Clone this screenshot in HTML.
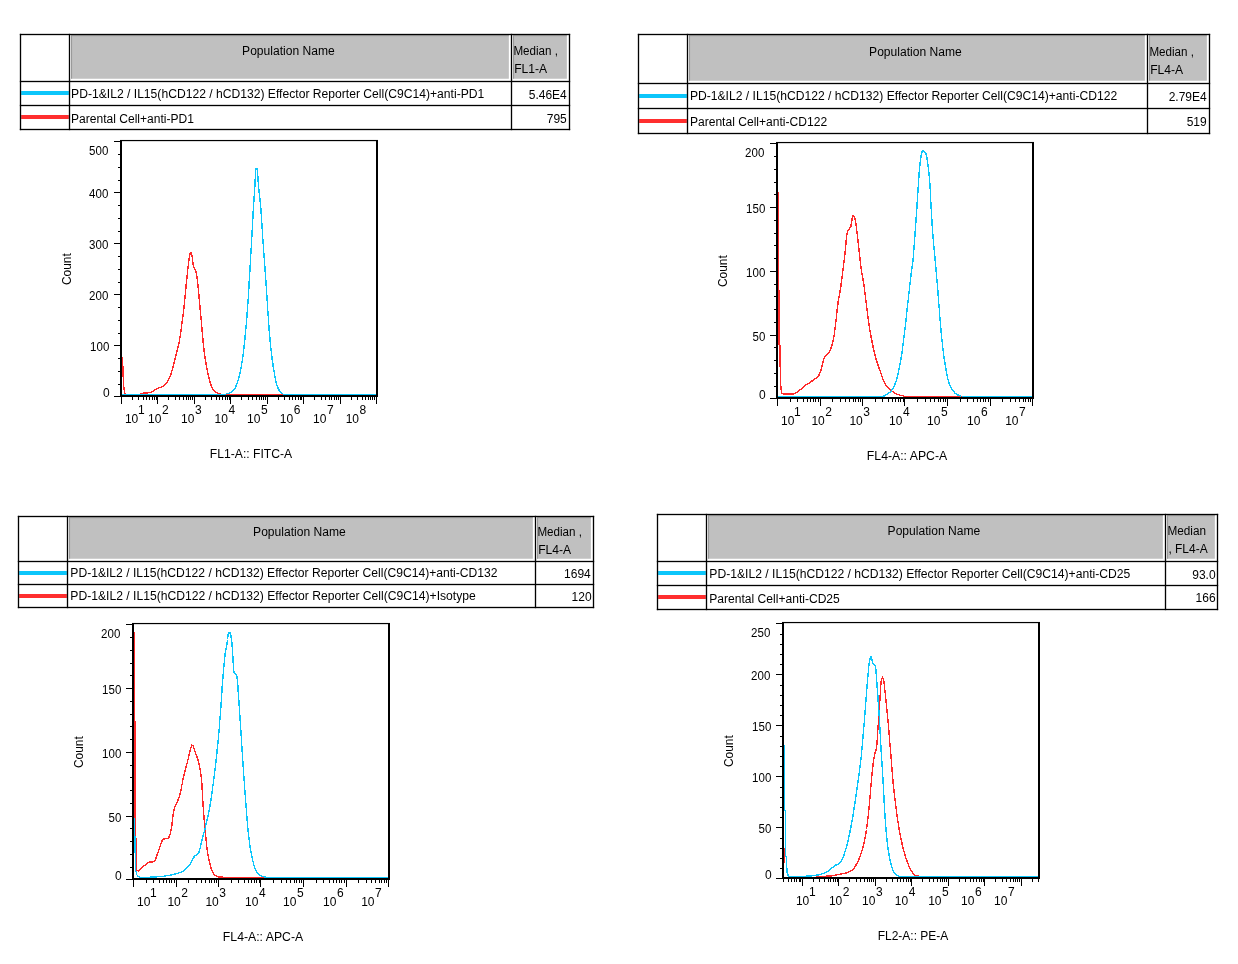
<!DOCTYPE html>
<html lang="en"><head><meta charset="utf-8"><title>Flow cytometry histograms</title>
<style>html,body{margin:0;padding:0;background:#fff}svg{display:block}text{font-family:"Liberation Sans", Arial, sans-serif;fill:#000}</style></head><body>
<svg width="1238" height="964" viewBox="0 0 1238 964">
<rect width="1238" height="964" fill="#fff"/>
<rect x="71.20" y="35.10" width="437.65" height="43.65" fill="#c0c0c0"/>
<rect x="71.20" y="35.10" width="0.85" height="43.65" fill="#8e8e8e"/>
<rect x="71.20" y="35.10" width="437.65" height="1.10" fill="#a2a2a2"/>
<rect x="513.20" y="35.10" width="53.65" height="43.65" fill="#c0c0c0"/>
<rect x="513.20" y="35.10" width="0.85" height="43.65" fill="#8e8e8e"/>
<rect x="513.20" y="35.10" width="53.65" height="1.10" fill="#a2a2a2"/>
<rect x="21.16" y="91.00" width="47.68" height="4.00" fill="#0cc6fb"/>
<rect x="21.16" y="115.00" width="47.68" height="4.00" fill="#ff2e2e"/>
<rect x="19.84" y="33.84" width="550.32" height="1.32" fill="#000"/>
<rect x="19.84" y="80.84" width="550.32" height="1.32" fill="#000"/>
<rect x="19.84" y="104.84" width="550.32" height="1.32" fill="#000"/>
<rect x="19.84" y="128.84" width="550.32" height="1.32" fill="#000"/>
<rect x="19.84" y="33.84" width="1.32" height="96.32" fill="#000"/>
<rect x="68.84" y="33.84" width="1.32" height="96.32" fill="#000"/>
<rect x="510.84" y="33.84" width="1.32" height="96.32" fill="#000"/>
<rect x="568.84" y="33.84" width="1.32" height="96.32" fill="#000"/>
<text x="288.40" y="54.70" font-size="12" text-anchor="middle" textLength="92.6" lengthAdjust="spacingAndGlyphs">Population Name</text>
<text x="513.40" y="54.70" font-size="12" text-anchor="start" textLength="44.6" lengthAdjust="spacingAndGlyphs">Median ,</text>
<text x="514.20" y="72.70" font-size="12" text-anchor="start" textLength="33.0" lengthAdjust="spacingAndGlyphs">FL1-A</text>
<text x="71.10" y="97.60" font-size="12" text-anchor="start" textLength="413.2" lengthAdjust="spacingAndGlyphs">PD-1&amp;IL2 / IL15(hCD122 / hCD132) Effector Reporter Cell(C9C14)+anti-PD1</text>
<text x="566.80" y="98.60" font-size="12" text-anchor="end">5.46E4</text>
<text x="71.10" y="122.90" font-size="12" text-anchor="start" textLength="122.8" lengthAdjust="spacingAndGlyphs">Parental Cell+anti-PD1</text>
<text x="566.80" y="122.70" font-size="12" text-anchor="end">795</text>
<rect x="689.20" y="35.10" width="455.65" height="45.65" fill="#c0c0c0"/>
<rect x="689.20" y="35.10" width="0.85" height="45.65" fill="#8e8e8e"/>
<rect x="689.20" y="35.10" width="455.65" height="1.10" fill="#a2a2a2"/>
<rect x="1149.20" y="35.10" width="57.65" height="45.65" fill="#c0c0c0"/>
<rect x="1149.20" y="35.10" width="0.85" height="45.65" fill="#8e8e8e"/>
<rect x="1149.20" y="35.10" width="57.65" height="1.10" fill="#a2a2a2"/>
<rect x="639.16" y="94.00" width="47.68" height="4.00" fill="#0cc6fb"/>
<rect x="639.16" y="119.00" width="47.68" height="4.00" fill="#ff2e2e"/>
<rect x="637.84" y="33.84" width="572.32" height="1.32" fill="#000"/>
<rect x="637.84" y="82.84" width="572.32" height="1.32" fill="#000"/>
<rect x="637.84" y="107.84" width="572.32" height="1.32" fill="#000"/>
<rect x="637.84" y="132.84" width="572.32" height="1.32" fill="#000"/>
<rect x="637.84" y="33.84" width="1.32" height="100.32" fill="#000"/>
<rect x="686.84" y="33.84" width="1.32" height="100.32" fill="#000"/>
<rect x="1146.84" y="33.84" width="1.32" height="100.32" fill="#000"/>
<rect x="1208.84" y="33.84" width="1.32" height="100.32" fill="#000"/>
<text x="915.40" y="55.70" font-size="12" text-anchor="middle" textLength="92.6" lengthAdjust="spacingAndGlyphs">Population Name</text>
<text x="1149.40" y="55.70" font-size="12" text-anchor="start" textLength="44.6" lengthAdjust="spacingAndGlyphs">Median ,</text>
<text x="1150.20" y="73.70" font-size="12" text-anchor="start" textLength="33.0" lengthAdjust="spacingAndGlyphs">FL4-A</text>
<text x="689.90" y="99.90" font-size="12" text-anchor="start" textLength="427.3" lengthAdjust="spacingAndGlyphs">PD-1&amp;IL2 / IL15(hCD122 / hCD132) Effector Reporter Cell(C9C14)+anti-CD122</text>
<text x="1206.70" y="100.90" font-size="12" text-anchor="end">2.79E4</text>
<text x="689.90" y="125.80" font-size="12" text-anchor="start" textLength="137.2" lengthAdjust="spacingAndGlyphs">Parental Cell+anti-CD122</text>
<text x="1206.70" y="125.80" font-size="12" text-anchor="end">519</text>
<rect x="69.20" y="517.10" width="463.65" height="41.65" fill="#c0c0c0"/>
<rect x="69.20" y="517.10" width="0.85" height="41.65" fill="#8e8e8e"/>
<rect x="69.20" y="517.10" width="463.65" height="1.10" fill="#a2a2a2"/>
<rect x="537.20" y="517.10" width="53.65" height="41.65" fill="#c0c0c0"/>
<rect x="537.20" y="517.10" width="0.85" height="41.65" fill="#8e8e8e"/>
<rect x="537.20" y="517.10" width="53.65" height="1.10" fill="#a2a2a2"/>
<rect x="19.16" y="571.00" width="47.68" height="4.00" fill="#0cc6fb"/>
<rect x="19.16" y="594.00" width="47.68" height="4.00" fill="#ff2e2e"/>
<rect x="17.84" y="515.84" width="576.32" height="1.32" fill="#000"/>
<rect x="17.84" y="560.84" width="576.32" height="1.32" fill="#000"/>
<rect x="17.84" y="583.84" width="576.32" height="1.32" fill="#000"/>
<rect x="17.84" y="606.84" width="576.32" height="1.32" fill="#000"/>
<rect x="17.84" y="515.84" width="1.32" height="92.32" fill="#000"/>
<rect x="66.84" y="515.84" width="1.32" height="92.32" fill="#000"/>
<rect x="534.84" y="515.84" width="1.32" height="92.32" fill="#000"/>
<rect x="592.84" y="515.84" width="1.32" height="92.32" fill="#000"/>
<text x="299.40" y="535.70" font-size="12" text-anchor="middle" textLength="92.6" lengthAdjust="spacingAndGlyphs">Population Name</text>
<text x="537.40" y="535.70" font-size="12" text-anchor="start" textLength="44.6" lengthAdjust="spacingAndGlyphs">Median ,</text>
<text x="538.20" y="553.70" font-size="12" text-anchor="start" textLength="33.0" lengthAdjust="spacingAndGlyphs">FL4-A</text>
<text x="70.30" y="576.60" font-size="12" text-anchor="start" textLength="427.3" lengthAdjust="spacingAndGlyphs">PD-1&amp;IL2 / IL15(hCD122 / hCD132) Effector Reporter Cell(C9C14)+anti-CD132</text>
<text x="590.80" y="577.70" font-size="12" text-anchor="end">1694</text>
<text x="70.30" y="599.60" font-size="12" text-anchor="start" textLength="405.5" lengthAdjust="spacingAndGlyphs">PD-1&amp;IL2 / IL15(hCD122 / hCD132) Effector Reporter Cell(C9C14)+Isotype</text>
<text x="591.60" y="600.60" font-size="12" text-anchor="end">120</text>
<rect x="708.20" y="515.10" width="454.65" height="43.65" fill="#c0c0c0"/>
<rect x="708.20" y="515.10" width="0.85" height="43.65" fill="#8e8e8e"/>
<rect x="708.20" y="515.10" width="454.65" height="1.10" fill="#a2a2a2"/>
<rect x="1167.20" y="515.10" width="47.65" height="43.65" fill="#c0c0c0"/>
<rect x="1167.20" y="515.10" width="0.85" height="43.65" fill="#8e8e8e"/>
<rect x="1167.20" y="515.10" width="47.65" height="1.10" fill="#a2a2a2"/>
<rect x="658.16" y="571.00" width="47.68" height="4.00" fill="#0cc6fb"/>
<rect x="658.16" y="595.00" width="47.68" height="4.00" fill="#ff2e2e"/>
<rect x="656.84" y="513.84" width="561.32" height="1.32" fill="#000"/>
<rect x="656.84" y="560.84" width="561.32" height="1.32" fill="#000"/>
<rect x="656.84" y="584.84" width="561.32" height="1.32" fill="#000"/>
<rect x="656.84" y="608.84" width="561.32" height="1.32" fill="#000"/>
<rect x="656.84" y="513.84" width="1.32" height="96.32" fill="#000"/>
<rect x="705.84" y="513.84" width="1.32" height="96.32" fill="#000"/>
<rect x="1164.84" y="513.84" width="1.32" height="96.32" fill="#000"/>
<rect x="1216.84" y="513.84" width="1.32" height="96.32" fill="#000"/>
<text x="933.90" y="534.70" font-size="12" text-anchor="middle" textLength="92.6" lengthAdjust="spacingAndGlyphs">Population Name</text>
<text x="1167.40" y="534.70" font-size="12" text-anchor="start" textLength="38.6" lengthAdjust="spacingAndGlyphs">Median</text>
<text x="1168.40" y="552.70" font-size="12" text-anchor="start" textLength="39.3" lengthAdjust="spacingAndGlyphs">, FL4-A</text>
<text x="709.30" y="578.20" font-size="12" text-anchor="start" textLength="421.0" lengthAdjust="spacingAndGlyphs">PD-1&amp;IL2 / IL15(hCD122 / hCD132) Effector Reporter Cell(C9C14)+anti-CD25</text>
<text x="1215.60" y="578.60" font-size="12" text-anchor="end">93.0</text>
<text x="709.30" y="602.60" font-size="12" text-anchor="start" textLength="130.5" lengthAdjust="spacingAndGlyphs">Parental Cell+anti-CD25</text>
<text x="1215.60" y="602.30" font-size="12" text-anchor="end">166</text>
<polyline points="122.5,357.0 123.0,372.0 123.6,385.0 124.6,393.4 126.0,394.4 140.4,394.4" fill="none" stroke="#ff2a2a" stroke-width="1.4" stroke-linejoin="round" shape-rendering="crispEdges"/>
<polyline points="140.4,393.4 142.0,393.3 144.3,393.1 146.7,392.9 148.7,392.7 151.0,392.2 152.9,391.4 155.3,389.8 157.8,388.2 160.4,387.4 162.8,386.6 166.1,383.6 167.5,381.6 168.9,379.1 170.3,376.1 171.0,374.0 171.7,371.7 172.4,369.2 173.0,366.8 173.6,364.5 174.2,362.4 174.7,360.4 175.1,358.4 175.6,356.5 176.1,354.5 176.7,352.1 177.4,349.7 178.0,347.2 178.6,344.6 179.1,342.4 179.5,340.1 179.9,337.8 180.3,335.4 180.7,332.9 181.0,330.8 181.3,328.6 181.6,326.4 181.8,324.2 182.1,321.9 182.4,319.7 182.7,317.5 183.0,315.4 183.3,313.3 183.5,311.1 183.8,308.8 184.1,306.4 184.3,304.5 184.5,302.5 184.7,300.4 184.9,298.3 185.1,296.2 185.3,294.0 185.5,291.9 185.7,289.8 185.9,287.7 186.1,285.6 186.3,283.4 186.5,281.3 186.8,279.2 187.0,277.1 187.2,275.1 187.4,273.2 187.7,270.7 187.9,268.3 188.2,266.0 188.5,263.8 188.7,261.7 189.0,259.9 189.5,256.5 190.0,253.8 190.5,252.4 191.4,253.4 192.2,256.6 192.5,258.3 192.7,260.4 192.9,262.7 193.2,264.8 193.5,266.6 194.7,268.9 196.0,271.5 196.4,273.3 196.7,275.5 197.1,277.8 197.4,280.4 197.7,283.2 197.9,285.0 198.1,287.0 198.3,289.0 198.5,291.1 198.7,293.2 198.9,295.4 199.1,297.6 199.3,299.8 199.5,301.8 199.7,303.7 199.9,305.7 200.1,307.8 200.2,309.8 200.4,311.9 200.6,313.9 200.8,316.0 201.0,318.0 201.2,320.0 201.4,322.1 201.5,324.1 201.7,326.1 201.9,328.2 202.0,330.2 202.2,332.2 202.4,334.3 202.6,336.3 202.8,338.4 203.0,340.4 203.2,342.6 203.5,344.7 203.7,346.8 203.9,348.8 204.1,350.8 204.4,352.7 204.6,354.5 205.0,357.0 205.3,359.4 205.7,361.6 206.0,363.7 206.4,365.7 206.8,367.8 207.3,370.3 207.8,372.8 208.3,375.1 208.8,377.4 209.3,379.4 210.1,382.3 210.9,384.7 211.8,386.9 213.4,389.8 215.1,391.9 218.4,393.7 222.0,394.3" fill="none" stroke="#ff2a2a" stroke-width="1.4" stroke-linejoin="round" shape-rendering="crispEdges"/>
<polyline points="221.0,394.4 376.0,394.4" fill="none" stroke="#ff2a2a" stroke-width="1.4" stroke-linejoin="round" shape-rendering="crispEdges"/>
<polyline points="122.0,394.4 226.4,394.4" fill="none" stroke="#0cc6fb" stroke-width="1.4" stroke-linejoin="round" shape-rendering="crispEdges"/>
<polyline points="226.4,394.0 228.7,393.3 231.5,392.0 233.5,390.4 235.3,387.6 236.1,385.8 236.9,383.7 237.7,381.4 238.5,378.8 239.2,376.2 239.7,374.3 240.1,372.3 240.6,370.2 241.0,368.1 241.4,365.8 241.8,363.5 242.2,361.0 242.5,359.2 242.7,357.3 243.0,355.3 243.3,353.3 243.5,351.3 243.8,349.2 244.0,347.1 244.2,344.9 244.5,342.8 244.7,340.6 244.9,338.6 245.1,336.6 245.3,334.6 245.5,332.6 245.7,330.5 245.9,328.4 246.1,326.3 246.3,324.2 246.4,322.0 246.6,319.9 246.8,317.7 247.0,315.7 247.1,313.6 247.3,311.5 247.4,309.4 247.6,307.3 247.7,305.2 247.9,303.0 248.0,300.9 248.2,298.7 248.3,296.6 248.5,294.4 248.6,292.3 248.7,290.2 248.9,288.1 249.0,286.0 249.1,283.8 249.2,281.7 249.4,279.6 249.5,277.5 249.6,275.4 249.7,273.3 249.9,271.1 250.0,269.0 250.1,266.9 250.2,264.8 250.3,262.7 250.5,260.6 250.6,258.5 250.7,256.4 250.8,254.3 251.0,252.2 251.1,250.1 251.2,247.9 251.3,245.8 251.5,243.6 251.6,241.4 251.7,239.3 251.8,237.2 251.9,235.1 252.1,232.9 252.2,230.7 252.3,228.5 252.4,226.4 252.5,224.2 252.6,222.0 252.7,219.8 252.9,217.7 253.0,215.6 253.1,213.5 253.2,211.3 253.4,209.0 253.5,206.8 253.6,204.6 253.8,202.4 253.9,200.2 254.1,198.0 254.2,195.9 254.3,193.9 254.5,191.8 254.6,189.9 254.7,188.0 254.9,185.5 255.0,183.0 255.1,180.5 255.3,178.1 255.4,175.8 255.5,173.7 255.6,171.8 255.8,170.2 255.9,169.0 257.2,169.0 257.4,170.3 257.5,171.9 257.7,173.9 257.8,176.1 258.0,178.4 258.1,180.9 258.3,183.3 258.5,185.7 258.7,188.0 258.9,190.0 259.1,192.0 259.3,193.9 259.5,195.9 259.8,198.0 260.0,200.0 260.2,202.1 260.4,204.1 260.6,206.3 260.8,208.4 261.0,210.4 261.1,212.4 261.2,214.4 261.4,216.4 261.5,218.5 261.6,220.6 261.8,222.7 261.9,224.8 262.0,227.0 262.2,229.1 262.3,231.3 262.4,233.3 262.6,235.4 262.7,237.5 262.9,239.6 263.0,241.7 263.2,243.8 263.3,246.0 263.5,248.1 263.6,250.3 263.8,252.4 263.9,254.6 264.1,256.7 264.3,258.8 264.4,260.9 264.6,263.0 264.7,265.2 264.9,267.3 265.0,269.4 265.2,271.5 265.3,273.6 265.5,275.7 265.6,277.9 265.8,280.0 265.9,282.1 266.0,284.2 266.2,286.3 266.3,288.5 266.5,290.6 266.6,292.7 266.8,294.9 266.9,297.0 267.0,299.1 267.2,301.2 267.3,303.4 267.5,305.5 267.6,307.6 267.7,309.7 267.9,311.9 268.0,314.1 268.2,316.3 268.3,318.4 268.5,320.6 268.6,322.8 268.8,324.9 268.9,327.0 269.1,329.1 269.2,331.1 269.4,333.0 269.6,335.2 269.8,337.4 270.0,339.5 270.2,341.6 270.3,343.6 270.5,345.6 270.7,347.6 271.0,349.5 271.2,351.4 271.4,353.3 271.7,355.7 272.0,358.0 272.3,360.4 272.7,362.7 273.0,364.9 273.3,367.1 273.7,369.1 274.0,371.1 274.4,373.6 274.8,375.9 275.2,378.1 275.6,380.1 276.0,382.0 276.5,383.8 277.5,386.9 278.7,389.5 279.8,391.5 283.1,394.0" fill="none" stroke="#0cc6fb" stroke-width="1.4" stroke-linejoin="round" shape-rendering="crispEdges"/>
<polyline points="283.1,394.4 376.0,394.4" fill="none" stroke="#0cc6fb" stroke-width="1.4" stroke-linejoin="round" shape-rendering="crispEdges"/>
<rect x="120.00" y="140.00" width="2.00" height="257.00" fill="#000"/>
<rect x="376.00" y="140.00" width="2.00" height="257.00" fill="#000"/>
<rect x="120.00" y="139.95" width="258.00" height="1.20" fill="#000"/>
<rect x="120.00" y="395.00" width="258.00" height="2.00" fill="#000"/>
<rect x="114.00" y="141.00" width="6.50" height="1.00" fill="#000"/>
<rect x="118.00" y="154.00" width="2.50" height="1.00" fill="#000"/>
<rect x="118.00" y="167.00" width="2.50" height="1.00" fill="#000"/>
<rect x="118.00" y="180.00" width="2.50" height="1.00" fill="#000"/>
<rect x="114.00" y="192.00" width="6.50" height="1.00" fill="#000"/>
<rect x="118.00" y="205.00" width="2.50" height="1.00" fill="#000"/>
<rect x="118.00" y="218.00" width="2.50" height="1.00" fill="#000"/>
<rect x="118.00" y="231.00" width="2.50" height="1.00" fill="#000"/>
<rect x="114.00" y="243.00" width="6.50" height="1.00" fill="#000"/>
<rect x="118.00" y="256.00" width="2.50" height="1.00" fill="#000"/>
<rect x="118.00" y="269.00" width="2.50" height="1.00" fill="#000"/>
<rect x="118.00" y="282.00" width="2.50" height="1.00" fill="#000"/>
<rect x="114.00" y="294.00" width="6.50" height="1.00" fill="#000"/>
<rect x="118.00" y="307.00" width="2.50" height="1.00" fill="#000"/>
<rect x="118.00" y="320.00" width="2.50" height="1.00" fill="#000"/>
<rect x="118.00" y="333.00" width="2.50" height="1.00" fill="#000"/>
<rect x="114.00" y="345.00" width="6.50" height="1.00" fill="#000"/>
<rect x="118.00" y="358.00" width="2.50" height="1.00" fill="#000"/>
<rect x="118.00" y="371.00" width="2.50" height="1.00" fill="#000"/>
<rect x="118.00" y="384.00" width="2.50" height="1.00" fill="#000"/>
<rect x="114.00" y="396.00" width="6.50" height="1.00" fill="#000"/>
<text x="108.30" y="154.70" font-size="12" text-anchor="end" textLength="19.2" lengthAdjust="spacingAndGlyphs">500</text>
<text x="108.30" y="198.00" font-size="12" text-anchor="end" textLength="19.2" lengthAdjust="spacingAndGlyphs">400</text>
<text x="108.30" y="249.00" font-size="12" text-anchor="end" textLength="19.2" lengthAdjust="spacingAndGlyphs">300</text>
<text x="108.30" y="300.00" font-size="12" text-anchor="end" textLength="19.2" lengthAdjust="spacingAndGlyphs">200</text>
<text x="109.30" y="351.00" font-size="12" text-anchor="end" textLength="19.2" lengthAdjust="spacingAndGlyphs">100</text>
<text x="109.60" y="397.00" font-size="12" text-anchor="end">0</text>
<rect x="121.00" y="396.50" width="1.00" height="7.50" fill="#000"/>
<rect x="157.00" y="396.50" width="1.00" height="7.50" fill="#000"/>
<rect x="194.00" y="396.50" width="1.00" height="7.50" fill="#000"/>
<rect x="230.00" y="396.50" width="1.00" height="7.50" fill="#000"/>
<rect x="267.00" y="396.50" width="1.00" height="7.50" fill="#000"/>
<rect x="303.00" y="396.50" width="1.00" height="7.50" fill="#000"/>
<rect x="340.00" y="396.50" width="1.00" height="7.50" fill="#000"/>
<rect x="376.00" y="396.50" width="1.00" height="7.50" fill="#000"/>
<rect x="132.00" y="396.50" width="1.00" height="3.50" fill="#000"/>
<rect x="138.00" y="396.50" width="1.00" height="3.50" fill="#000"/>
<rect x="143.00" y="396.50" width="1.00" height="3.50" fill="#000"/>
<rect x="146.00" y="396.50" width="1.00" height="3.50" fill="#000"/>
<rect x="149.00" y="396.50" width="1.00" height="3.50" fill="#000"/>
<rect x="152.00" y="396.50" width="1.00" height="3.50" fill="#000"/>
<rect x="154.00" y="396.50" width="1.00" height="3.50" fill="#000"/>
<rect x="156.00" y="396.50" width="1.00" height="3.50" fill="#000"/>
<rect x="168.00" y="396.50" width="1.00" height="3.50" fill="#000"/>
<rect x="175.00" y="396.50" width="1.00" height="3.50" fill="#000"/>
<rect x="179.00" y="396.50" width="1.00" height="3.50" fill="#000"/>
<rect x="183.00" y="396.50" width="1.00" height="3.50" fill="#000"/>
<rect x="186.00" y="396.50" width="1.00" height="3.50" fill="#000"/>
<rect x="188.00" y="396.50" width="1.00" height="3.50" fill="#000"/>
<rect x="190.00" y="396.50" width="1.00" height="3.50" fill="#000"/>
<rect x="192.00" y="396.50" width="1.00" height="3.50" fill="#000"/>
<rect x="205.00" y="396.50" width="1.00" height="3.50" fill="#000"/>
<rect x="211.00" y="396.50" width="1.00" height="3.50" fill="#000"/>
<rect x="216.00" y="396.50" width="1.00" height="3.50" fill="#000"/>
<rect x="219.00" y="396.50" width="1.00" height="3.50" fill="#000"/>
<rect x="222.00" y="396.50" width="1.00" height="3.50" fill="#000"/>
<rect x="225.00" y="396.50" width="1.00" height="3.50" fill="#000"/>
<rect x="227.00" y="396.50" width="1.00" height="3.50" fill="#000"/>
<rect x="229.00" y="396.50" width="1.00" height="3.50" fill="#000"/>
<rect x="241.00" y="396.50" width="1.00" height="3.50" fill="#000"/>
<rect x="248.00" y="396.50" width="1.00" height="3.50" fill="#000"/>
<rect x="252.00" y="396.50" width="1.00" height="3.50" fill="#000"/>
<rect x="256.00" y="396.50" width="1.00" height="3.50" fill="#000"/>
<rect x="259.00" y="396.50" width="1.00" height="3.50" fill="#000"/>
<rect x="261.00" y="396.50" width="1.00" height="3.50" fill="#000"/>
<rect x="263.00" y="396.50" width="1.00" height="3.50" fill="#000"/>
<rect x="265.00" y="396.50" width="1.00" height="3.50" fill="#000"/>
<rect x="278.00" y="396.50" width="1.00" height="3.50" fill="#000"/>
<rect x="284.00" y="396.50" width="1.00" height="3.50" fill="#000"/>
<rect x="289.00" y="396.50" width="1.00" height="3.50" fill="#000"/>
<rect x="292.00" y="396.50" width="1.00" height="3.50" fill="#000"/>
<rect x="295.00" y="396.50" width="1.00" height="3.50" fill="#000"/>
<rect x="298.00" y="396.50" width="1.00" height="3.50" fill="#000"/>
<rect x="300.00" y="396.50" width="1.00" height="3.50" fill="#000"/>
<rect x="301.00" y="396.50" width="1.00" height="3.50" fill="#000"/>
<rect x="314.00" y="396.50" width="1.00" height="3.50" fill="#000"/>
<rect x="321.00" y="396.50" width="1.00" height="3.50" fill="#000"/>
<rect x="325.00" y="396.50" width="1.00" height="3.50" fill="#000"/>
<rect x="329.00" y="396.50" width="1.00" height="3.50" fill="#000"/>
<rect x="331.00" y="396.50" width="1.00" height="3.50" fill="#000"/>
<rect x="334.00" y="396.50" width="1.00" height="3.50" fill="#000"/>
<rect x="336.00" y="396.50" width="1.00" height="3.50" fill="#000"/>
<rect x="338.00" y="396.50" width="1.00" height="3.50" fill="#000"/>
<rect x="351.00" y="396.50" width="1.00" height="3.50" fill="#000"/>
<rect x="357.00" y="396.50" width="1.00" height="3.50" fill="#000"/>
<rect x="362.00" y="396.50" width="1.00" height="3.50" fill="#000"/>
<rect x="365.00" y="396.50" width="1.00" height="3.50" fill="#000"/>
<rect x="368.00" y="396.50" width="1.00" height="3.50" fill="#000"/>
<rect x="370.00" y="396.50" width="1.00" height="3.50" fill="#000"/>
<rect x="372.00" y="396.50" width="1.00" height="3.50" fill="#000"/>
<rect x="374.00" y="396.50" width="1.00" height="3.50" fill="#000"/>
<text x="124.90" y="423.10" font-size="12" text-anchor="start">10</text>
<text x="137.90" y="413.80" font-size="12" text-anchor="start">1</text>
<text x="148.00" y="423.10" font-size="12" text-anchor="start">10</text>
<text x="161.90" y="413.80" font-size="12" text-anchor="start">2</text>
<text x="181.10" y="423.10" font-size="12" text-anchor="start">10</text>
<text x="195.00" y="413.80" font-size="12" text-anchor="start">3</text>
<text x="214.50" y="423.10" font-size="12" text-anchor="start">10</text>
<text x="228.40" y="413.80" font-size="12" text-anchor="start">4</text>
<text x="247.10" y="423.10" font-size="12" text-anchor="start">10</text>
<text x="261.00" y="413.80" font-size="12" text-anchor="start">5</text>
<text x="279.80" y="423.10" font-size="12" text-anchor="start">10</text>
<text x="293.70" y="413.80" font-size="12" text-anchor="start">6</text>
<text x="313.00" y="423.10" font-size="12" text-anchor="start">10</text>
<text x="326.90" y="413.80" font-size="12" text-anchor="start">7</text>
<text x="345.70" y="423.10" font-size="12" text-anchor="start">10</text>
<text x="359.60" y="413.80" font-size="12" text-anchor="start">8</text>
<text x="251.00" y="457.90" font-size="12" text-anchor="middle" textLength="82.3" lengthAdjust="spacingAndGlyphs">FL1-A:: FITC-A</text>
<text transform="translate(71.20,269.10) rotate(-90)" font-size="12" text-anchor="middle" textLength="31.8" lengthAdjust="spacingAndGlyphs">Count</text>
<polyline points="778.5,191.5 778.5,345.0" fill="none" stroke="#ff2a2a" stroke-width="1.0" stroke-linejoin="round" shape-rendering="crispEdges"/>
<polyline points="779.5,290.0 779.5,367.0" fill="none" stroke="#ff2a2a" stroke-width="1.0" stroke-linejoin="round" shape-rendering="crispEdges"/>
<polyline points="780.4,345.0 780.4,380.0 781.0,388.0 781.6,393.7 784.4,393.9" fill="none" stroke="#ff2a2a" stroke-width="1.4" stroke-linejoin="round" shape-rendering="crispEdges"/>
<polyline points="784.4,393.9 786.2,394.0 788.7,394.1 791.4,394.1 793.7,393.9 796.5,392.7 798.9,390.8 800.9,389.2 803.0,387.3 805.1,385.6 807.2,384.2 809.2,382.9 811.3,381.5 813.5,380.0 815.7,378.5 817.6,376.9 819.3,374.6 820.7,371.1 821.3,369.2 821.9,366.9 822.5,364.3 823.1,361.8 823.7,359.5 824.4,357.6 826.7,354.9 829.0,352.5 829.9,350.7 830.8,348.6 831.6,346.3 832.4,343.7 833.1,341.0 833.5,339.2 833.8,337.3 834.2,335.4 834.5,333.3 834.7,331.2 835.0,329.0 835.3,326.8 835.6,324.5 835.8,322.6 836.1,320.5 836.3,318.4 836.5,316.2 836.7,314.0 837.0,311.8 837.2,309.6 837.4,307.5 837.7,305.5 837.9,303.7 838.2,301.3 838.6,299.2 839.0,297.3 839.3,295.4 839.7,293.5 840.0,291.4 840.4,289.2 840.7,287.3 841.0,285.3 841.2,283.3 841.5,281.2 841.8,279.0 842.1,276.9 842.4,274.7 842.6,272.6 842.9,270.5 843.2,268.4 843.4,266.4 843.7,264.3 843.9,262.2 844.2,260.2 844.4,258.1 844.6,256.0 844.9,254.0 845.1,251.9 845.3,249.7 845.6,247.5 845.8,245.1 846.0,242.7 846.2,240.4 846.4,238.3 846.6,236.3 846.8,234.6 847.0,233.2 848.3,230.1 850.7,227.0 851.1,225.1 851.6,222.4 852.0,219.7 852.4,217.2 852.8,215.6 854.5,216.6 854.8,217.9 855.2,219.6 855.5,221.6 855.9,223.8 856.2,226.3 856.6,229.0 856.8,230.7 857.1,232.7 857.3,234.7 857.6,236.8 857.8,239.0 858.0,241.2 858.3,243.5 858.5,245.6 858.8,247.8 859.0,249.8 859.2,252.0 859.5,254.2 859.7,256.3 859.9,258.4 860.2,260.5 860.4,262.6 860.6,264.6 860.9,266.5 861.1,268.4 861.4,270.6 861.8,272.7 862.1,274.6 862.5,276.5 862.9,278.5 863.2,280.6 863.6,283.0 863.9,284.8 864.1,286.7 864.4,288.8 864.7,290.8 864.9,293.0 865.2,295.1 865.5,297.3 865.8,299.5 866.0,301.6 866.3,303.7 866.6,305.8 866.8,307.9 867.1,310.1 867.4,312.2 867.6,314.4 867.9,316.5 868.2,318.6 868.4,320.6 868.7,322.6 869.0,324.5 869.3,326.8 869.7,328.9 870.0,331.0 870.4,333.0 870.7,335.0 871.1,337.0 871.5,339.0 871.9,341.0 872.3,343.1 872.8,345.2 873.2,347.4 873.7,349.6 874.1,351.7 874.6,353.7 875.1,355.7 875.6,357.6 876.3,359.9 877.0,362.1 877.7,364.2 878.4,366.2 879.1,368.1 879.8,370.1 880.6,372.5 881.4,374.9 882.2,377.3 883.0,379.5 883.9,381.5 885.5,384.3 887.2,386.7 889.1,388.8 891.3,390.8 893.8,392.5 896.4,393.9 898.6,394.7 901.0,395.4 903.2,395.9 904.7,396.3" fill="none" stroke="#ff2a2a" stroke-width="1.4" stroke-linejoin="round" shape-rendering="crispEdges"/>
<polyline points="904.7,396.4 1032.0,396.4" fill="none" stroke="#ff2a2a" stroke-width="1.4" stroke-linejoin="round" shape-rendering="crispEdges"/>
<polyline points="778.0,396.4 883.4,396.4" fill="none" stroke="#0cc6fb" stroke-width="1.4" stroke-linejoin="round" shape-rendering="crispEdges"/>
<polyline points="883.4,396.3 885.2,395.4 887.8,394.0 890.2,392.0 891.7,390.2 893.1,388.0 894.4,385.5 895.6,382.6 896.2,380.9 896.7,379.0 897.3,377.0 897.8,374.9 898.3,372.8 898.7,370.6 899.2,368.5 899.6,366.4 900.0,364.4 900.4,362.5 900.7,360.6 901.0,358.6 901.3,356.7 901.7,354.6 902.0,352.5 902.3,350.2 902.6,348.3 902.8,346.3 903.1,344.2 903.4,342.1 903.6,340.0 903.9,337.8 904.2,335.5 904.5,333.3 904.7,331.0 905.0,328.7 905.2,326.8 905.5,324.8 905.7,322.8 905.9,320.8 906.1,318.8 906.4,316.7 906.6,314.7 906.8,312.6 907.0,310.5 907.2,308.5 907.5,306.4 907.7,304.4 907.9,302.4 908.2,300.3 908.4,298.3 908.6,296.2 908.8,294.2 909.1,292.1 909.3,290.1 909.5,288.1 909.7,286.1 910.0,284.1 910.2,282.1 910.4,280.2 910.7,278.0 910.9,275.8 911.2,273.7 911.5,271.6 911.8,269.6 912.1,267.5 912.3,265.4 912.6,263.2 912.9,261.0 913.1,258.6 913.3,256.7 913.5,254.7 913.6,252.7 913.8,250.7 914.0,248.6 914.1,246.5 914.3,244.4 914.4,242.2 914.6,240.1 914.7,237.9 914.9,235.8 915.0,233.7 915.2,231.6 915.4,229.5 915.5,227.5 915.7,225.4 915.8,223.4 915.9,221.4 916.1,219.3 916.2,217.3 916.4,215.2 916.5,213.2 916.7,211.1 916.8,209.0 917.0,206.9 917.1,204.7 917.2,202.6 917.4,200.5 917.5,198.3 917.6,196.1 917.8,193.9 917.9,191.7 918.0,189.4 918.2,187.2 918.3,185.0 918.4,182.9 918.6,180.8 918.7,178.8 918.9,176.8 919.0,175.0 919.2,172.5 919.4,170.1 919.6,167.8 919.9,165.5 920.1,163.3 920.3,161.3 920.5,159.4 920.8,157.7 921.0,156.1 921.2,154.8 922.2,151.0 923.3,150.2 925.8,153.5 926.2,155.1 926.7,156.9 927.1,159.0 927.5,161.5 927.9,164.3 928.1,166.0 928.3,167.7 928.6,169.6 928.8,171.5 929.0,173.6 929.2,175.7 929.4,178.0 929.6,180.5 929.8,183.1 929.9,184.9 930.0,186.8 930.2,188.8 930.3,190.9 930.4,193.0 930.5,195.2 930.6,197.4 930.7,199.7 930.8,202.0 930.9,204.2 931.0,206.4 931.2,208.6 931.3,210.7 931.4,212.8 931.5,215.0 931.7,217.1 931.8,219.3 932.0,221.4 932.1,223.5 932.2,225.6 932.4,227.6 932.5,229.7 932.7,231.7 932.8,233.7 933.0,235.7 933.1,237.7 933.3,239.7 933.5,241.8 933.7,243.9 933.8,246.0 934.0,248.0 934.2,250.0 934.4,252.0 934.6,254.0 934.8,256.0 934.9,258.0 935.1,260.0 935.3,262.0 935.5,264.0 935.7,266.0 935.9,268.0 936.0,270.1 936.2,272.1 936.4,274.1 936.6,276.1 936.7,278.1 936.9,280.1 937.1,282.1 937.3,284.2 937.4,286.2 937.6,288.2 937.8,290.2 937.9,292.2 938.1,294.2 938.2,296.2 938.4,298.2 938.5,300.2 938.7,302.2 938.8,304.2 939.0,306.2 939.2,308.3 939.3,310.4 939.5,312.5 939.7,314.5 939.8,316.6 940.0,318.7 940.2,320.8 940.4,322.9 940.6,325.1 940.7,327.3 940.9,329.4 941.1,331.5 941.3,333.6 941.5,335.6 941.7,337.6 941.9,339.5 942.2,341.9 942.4,344.2 942.7,346.4 942.9,348.6 943.2,350.8 943.4,352.9 943.7,354.9 944.0,357.0 944.3,359.0 944.6,361.0 945.0,363.3 945.3,365.5 945.7,367.8 946.1,370.1 946.5,372.2 946.9,374.3 947.3,376.3 947.7,378.2 948.1,379.9 948.9,382.6 949.7,384.9 950.6,386.9 951.4,388.5 952.2,390.0 955.5,393.6 958.5,395.3 961.5,396.4" fill="none" stroke="#0cc6fb" stroke-width="1.4" stroke-linejoin="round" shape-rendering="crispEdges"/>
<polyline points="961.5,396.4 1032.0,396.4" fill="none" stroke="#0cc6fb" stroke-width="1.4" stroke-linejoin="round" shape-rendering="crispEdges"/>
<rect x="776.00" y="142.00" width="2.00" height="257.00" fill="#000"/>
<rect x="1032.00" y="142.00" width="2.00" height="257.00" fill="#000"/>
<rect x="776.00" y="141.95" width="258.00" height="1.20" fill="#000"/>
<rect x="776.00" y="397.00" width="258.00" height="2.00" fill="#000"/>
<rect x="770.00" y="143.00" width="6.50" height="1.00" fill="#000"/>
<rect x="774.00" y="156.00" width="2.50" height="1.00" fill="#000"/>
<rect x="774.00" y="169.00" width="2.50" height="1.00" fill="#000"/>
<rect x="774.00" y="182.00" width="2.50" height="1.00" fill="#000"/>
<rect x="774.00" y="194.00" width="2.50" height="1.00" fill="#000"/>
<rect x="770.00" y="207.00" width="6.50" height="1.00" fill="#000"/>
<rect x="774.00" y="220.00" width="2.50" height="1.00" fill="#000"/>
<rect x="774.00" y="233.00" width="2.50" height="1.00" fill="#000"/>
<rect x="774.00" y="245.00" width="2.50" height="1.00" fill="#000"/>
<rect x="774.00" y="258.00" width="2.50" height="1.00" fill="#000"/>
<rect x="770.00" y="271.00" width="6.50" height="1.00" fill="#000"/>
<rect x="774.00" y="284.00" width="2.50" height="1.00" fill="#000"/>
<rect x="774.00" y="296.00" width="2.50" height="1.00" fill="#000"/>
<rect x="774.00" y="309.00" width="2.50" height="1.00" fill="#000"/>
<rect x="774.00" y="322.00" width="2.50" height="1.00" fill="#000"/>
<rect x="770.00" y="335.00" width="6.50" height="1.00" fill="#000"/>
<rect x="774.00" y="347.00" width="2.50" height="1.00" fill="#000"/>
<rect x="774.00" y="360.00" width="2.50" height="1.00" fill="#000"/>
<rect x="774.00" y="373.00" width="2.50" height="1.00" fill="#000"/>
<rect x="774.00" y="386.00" width="2.50" height="1.00" fill="#000"/>
<rect x="770.00" y="398.00" width="6.50" height="1.00" fill="#000"/>
<text x="764.30" y="156.70" font-size="12" text-anchor="end" textLength="19.2" lengthAdjust="spacingAndGlyphs">200</text>
<text x="765.30" y="213.00" font-size="12" text-anchor="end" textLength="19.2" lengthAdjust="spacingAndGlyphs">150</text>
<text x="765.30" y="277.00" font-size="12" text-anchor="end" textLength="19.2" lengthAdjust="spacingAndGlyphs">100</text>
<text x="765.30" y="341.00" font-size="12" text-anchor="end" textLength="12.8" lengthAdjust="spacingAndGlyphs">50</text>
<text x="765.60" y="399.00" font-size="12" text-anchor="end">0</text>
<rect x="777.00" y="398.50" width="1.00" height="7.50" fill="#000"/>
<rect x="820.00" y="398.50" width="1.00" height="7.50" fill="#000"/>
<rect x="862.00" y="398.50" width="1.00" height="7.50" fill="#000"/>
<rect x="904.00" y="398.50" width="1.00" height="7.50" fill="#000"/>
<rect x="947.00" y="398.50" width="1.00" height="7.50" fill="#000"/>
<rect x="990.00" y="398.50" width="1.00" height="7.50" fill="#000"/>
<rect x="1032.00" y="398.50" width="1.00" height="7.50" fill="#000"/>
<rect x="790.00" y="398.50" width="1.00" height="3.50" fill="#000"/>
<rect x="797.00" y="398.50" width="1.00" height="3.50" fill="#000"/>
<rect x="803.00" y="398.50" width="1.00" height="3.50" fill="#000"/>
<rect x="807.00" y="398.50" width="1.00" height="3.50" fill="#000"/>
<rect x="810.00" y="398.50" width="1.00" height="3.50" fill="#000"/>
<rect x="813.00" y="398.50" width="1.00" height="3.50" fill="#000"/>
<rect x="815.00" y="398.50" width="1.00" height="3.50" fill="#000"/>
<rect x="818.00" y="398.50" width="1.00" height="3.50" fill="#000"/>
<rect x="832.00" y="398.50" width="1.00" height="3.50" fill="#000"/>
<rect x="840.00" y="398.50" width="1.00" height="3.50" fill="#000"/>
<rect x="845.00" y="398.50" width="1.00" height="3.50" fill="#000"/>
<rect x="849.00" y="398.50" width="1.00" height="3.50" fill="#000"/>
<rect x="853.00" y="398.50" width="1.00" height="3.50" fill="#000"/>
<rect x="855.00" y="398.50" width="1.00" height="3.50" fill="#000"/>
<rect x="858.00" y="398.50" width="1.00" height="3.50" fill="#000"/>
<rect x="860.00" y="398.50" width="1.00" height="3.50" fill="#000"/>
<rect x="875.00" y="398.50" width="1.00" height="3.50" fill="#000"/>
<rect x="882.00" y="398.50" width="1.00" height="3.50" fill="#000"/>
<rect x="888.00" y="398.50" width="1.00" height="3.50" fill="#000"/>
<rect x="892.00" y="398.50" width="1.00" height="3.50" fill="#000"/>
<rect x="895.00" y="398.50" width="1.00" height="3.50" fill="#000"/>
<rect x="898.00" y="398.50" width="1.00" height="3.50" fill="#000"/>
<rect x="900.00" y="398.50" width="1.00" height="3.50" fill="#000"/>
<rect x="903.00" y="398.50" width="1.00" height="3.50" fill="#000"/>
<rect x="917.00" y="398.50" width="1.00" height="3.50" fill="#000"/>
<rect x="925.00" y="398.50" width="1.00" height="3.50" fill="#000"/>
<rect x="930.00" y="398.50" width="1.00" height="3.50" fill="#000"/>
<rect x="934.00" y="398.50" width="1.00" height="3.50" fill="#000"/>
<rect x="938.00" y="398.50" width="1.00" height="3.50" fill="#000"/>
<rect x="940.00" y="398.50" width="1.00" height="3.50" fill="#000"/>
<rect x="943.00" y="398.50" width="1.00" height="3.50" fill="#000"/>
<rect x="945.00" y="398.50" width="1.00" height="3.50" fill="#000"/>
<rect x="960.00" y="398.50" width="1.00" height="3.50" fill="#000"/>
<rect x="967.00" y="398.50" width="1.00" height="3.50" fill="#000"/>
<rect x="973.00" y="398.50" width="1.00" height="3.50" fill="#000"/>
<rect x="977.00" y="398.50" width="1.00" height="3.50" fill="#000"/>
<rect x="980.00" y="398.50" width="1.00" height="3.50" fill="#000"/>
<rect x="983.00" y="398.50" width="1.00" height="3.50" fill="#000"/>
<rect x="985.00" y="398.50" width="1.00" height="3.50" fill="#000"/>
<rect x="988.00" y="398.50" width="1.00" height="3.50" fill="#000"/>
<rect x="1002.00" y="398.50" width="1.00" height="3.50" fill="#000"/>
<rect x="1010.00" y="398.50" width="1.00" height="3.50" fill="#000"/>
<rect x="1015.00" y="398.50" width="1.00" height="3.50" fill="#000"/>
<rect x="1019.00" y="398.50" width="1.00" height="3.50" fill="#000"/>
<rect x="1023.00" y="398.50" width="1.00" height="3.50" fill="#000"/>
<rect x="1025.00" y="398.50" width="1.00" height="3.50" fill="#000"/>
<rect x="1028.00" y="398.50" width="1.00" height="3.50" fill="#000"/>
<rect x="1030.00" y="398.50" width="1.00" height="3.50" fill="#000"/>
<text x="781.10" y="425.10" font-size="12" text-anchor="start">10</text>
<text x="794.10" y="415.80" font-size="12" text-anchor="start">1</text>
<text x="811.40" y="425.10" font-size="12" text-anchor="start">10</text>
<text x="825.30" y="415.80" font-size="12" text-anchor="start">2</text>
<text x="849.40" y="425.10" font-size="12" text-anchor="start">10</text>
<text x="863.30" y="415.80" font-size="12" text-anchor="start">3</text>
<text x="889.10" y="425.10" font-size="12" text-anchor="start">10</text>
<text x="903.00" y="415.80" font-size="12" text-anchor="start">4</text>
<text x="927.10" y="425.10" font-size="12" text-anchor="start">10</text>
<text x="941.00" y="415.80" font-size="12" text-anchor="start">5</text>
<text x="967.10" y="425.10" font-size="12" text-anchor="start">10</text>
<text x="981.00" y="415.80" font-size="12" text-anchor="start">6</text>
<text x="1005.20" y="425.10" font-size="12" text-anchor="start">10</text>
<text x="1019.10" y="415.80" font-size="12" text-anchor="start">7</text>
<text x="907.00" y="459.90" font-size="12" text-anchor="middle" textLength="80.3" lengthAdjust="spacingAndGlyphs">FL4-A:: APC-A</text>
<text transform="translate(727.20,271.10) rotate(-90)" font-size="12" text-anchor="middle" textLength="31.8" lengthAdjust="spacingAndGlyphs">Count</text>
<polyline points="134.5,632.2 134.5,721.0" fill="none" stroke="#ff2a2a" stroke-width="1.0" stroke-linejoin="round" shape-rendering="crispEdges"/>
<polyline points="135.0,721.0 135.0,840.0" fill="none" stroke="#ff2a2a" stroke-width="2.0" stroke-linejoin="round" shape-rendering="crispEdges"/>
<polyline points="136.4,838.0 136.4,869.5 137.4,871.5" fill="none" stroke="#ff2a2a" stroke-width="1.2" stroke-linejoin="round" shape-rendering="crispEdges"/>
<polyline points="137.7,871.6 139.3,870.1 141.6,868.0 143.8,866.1 146.6,863.7 149.3,862.0 151.9,862.0 154.2,861.5 155.3,859.7 156.3,857.1 157.5,853.8 158.2,852.0 158.9,849.7 159.7,847.3 160.6,844.8 161.4,842.6 162.2,840.6 163.0,839.2 165.6,838.6 168.0,838.6 169.0,837.1 169.8,835.0 170.6,832.3 171.3,829.0 171.6,827.3 171.9,825.3 172.1,823.1 172.4,820.8 172.6,818.5 172.9,816.2 173.2,813.9 173.6,811.7 174.0,809.8 174.8,807.2 175.7,805.0 176.7,802.9 177.7,800.8 178.6,798.5 179.5,796.0 180.0,794.1 180.5,792.0 181.0,789.9 181.4,787.7 181.8,785.4 182.3,783.2 182.7,781.0 183.1,778.8 183.6,776.8 184.1,774.6 184.6,772.5 185.2,770.4 185.7,768.3 186.2,766.3 186.8,764.3 187.3,762.3 187.8,760.3 188.4,757.9 189.0,755.3 189.6,752.6 190.2,750.1 190.8,747.9 191.4,746.2 191.9,745.1 193.2,746.1 194.6,750.6 195.2,752.2 195.9,754.1 196.7,756.1 197.5,758.3 198.2,760.6 198.8,763.0 199.2,764.8 199.6,766.6 200.0,768.4 200.3,770.3 200.6,772.3 200.9,774.5 201.2,776.9 201.5,779.5 201.7,781.3 201.8,783.2 202.0,785.2 202.1,787.3 202.2,789.5 202.3,791.8 202.5,794.0 202.6,796.3 202.7,798.6 202.8,800.8 202.9,803.0 203.1,805.0 203.2,807.0 203.4,809.2 203.5,811.4 203.7,813.5 203.9,815.5 204.1,817.5 204.2,819.5 204.4,821.4 204.6,823.3 204.8,825.2 204.9,827.1 205.1,829.0 205.3,831.3 205.5,833.6 205.7,835.8 205.9,838.0 206.1,840.2 206.3,842.3 206.5,844.3 206.7,846.4 207.0,848.3 207.4,850.7 207.7,853.1 208.1,855.4 208.6,857.6 209.0,859.7 209.4,861.6 209.8,863.4 210.4,866.0 211.1,868.1 211.7,870.0 212.5,871.6 214.1,874.4 216.6,876.3 218.9,876.9 221.7,877.1 224.4,877.3 226.3,877.4" fill="none" stroke="#ff2a2a" stroke-width="1.4" stroke-linejoin="round" shape-rendering="crispEdges"/>
<polyline points="226.3,877.4 388.0,877.4" fill="none" stroke="#ff2a2a" stroke-width="1.4" stroke-linejoin="round" shape-rendering="crispEdges"/>
<polyline points="134.5,818.0 134.5,853.0" fill="none" stroke="#0cc6fb" stroke-width="1.0" stroke-linejoin="round" shape-rendering="crispEdges"/>
<polyline points="135.5,836.0 135.5,869.5 136.5,874.0 137.7,876.6 141.0,877.4" fill="none" stroke="#0cc6fb" stroke-width="1.2" stroke-linejoin="round" shape-rendering="crispEdges"/>
<polyline points="141.0,877.4 142.2,877.4 143.8,877.4 145.6,877.4 147.7,877.3 150.0,877.2 152.3,877.1 154.7,877.0 157.0,876.8 159.2,876.7 161.2,876.5 163.0,876.3 165.8,875.9 168.4,875.5 170.8,875.1 172.9,874.6 174.9,874.1 176.8,873.6 179.3,872.8 181.4,871.9 183.3,870.9 185.0,869.7 187.1,867.8 188.9,865.7 190.5,863.4 192.0,860.9 193.3,858.2 194.6,856.0 196.8,854.5 198.8,852.4 199.4,850.9 199.9,849.0 200.4,846.8 200.9,844.6 201.5,842.2 202.0,840.0 202.6,837.9 203.1,835.7 203.7,833.6 204.3,831.3 205.0,828.9 205.6,826.3 206.0,824.4 206.5,822.4 207.0,820.4 207.5,818.3 208.0,816.1 208.5,813.8 208.9,811.6 209.4,809.3 209.8,807.0 210.1,805.1 210.4,803.2 210.8,801.2 211.1,799.2 211.3,797.2 211.6,795.2 211.9,793.1 212.2,791.1 212.5,789.0 212.7,787.0 213.0,785.0 213.3,783.0 213.5,781.1 213.8,779.1 214.0,777.2 214.3,775.3 214.5,773.4 214.8,771.4 215.0,769.4 215.3,767.3 215.5,765.2 215.8,763.0 216.0,761.1 216.2,759.1 216.5,757.0 216.7,754.9 216.9,752.8 217.1,750.7 217.3,748.5 217.6,746.3 217.8,744.1 218.0,742.0 218.2,739.8 218.4,737.6 218.6,735.5 218.8,733.4 219.0,731.3 219.2,729.2 219.3,727.0 219.5,724.9 219.7,722.8 219.8,720.7 220.0,718.6 220.2,716.5 220.3,714.3 220.5,712.2 220.6,710.1 220.8,708.0 221.0,705.9 221.1,703.7 221.3,701.6 221.4,699.4 221.5,697.3 221.7,695.1 221.8,693.0 222.0,690.9 222.1,688.8 222.2,686.7 222.4,684.6 222.5,682.5 222.7,680.5 222.9,678.3 223.1,676.1 223.2,673.8 223.4,671.6 223.6,669.3 223.8,667.1 224.0,665.0 224.2,662.9 224.4,660.9 224.5,659.1 224.7,657.4 224.9,655.8 225.3,652.7 225.7,650.5 226.1,648.6 226.4,646.8 226.8,644.8 227.1,642.3 227.5,639.5 227.8,636.8 228.2,634.5 228.5,632.9 230.4,632.9 230.7,634.1 230.9,635.7 231.2,637.6 231.5,639.8 231.8,642.2 232.0,644.8 232.3,647.5 232.4,649.3 232.6,651.3 232.7,653.5 232.8,655.8 233.0,658.2 233.1,660.6 233.2,663.0 233.4,665.3 233.5,667.4 233.7,669.3 233.8,671.0 234.0,672.3 236.7,675.0 236.9,676.2 237.1,677.7 237.3,679.3 237.4,681.1 237.6,683.1 237.8,685.2 237.9,687.4 238.1,689.7 238.2,692.1 238.4,694.5 238.6,697.0 238.7,698.8 238.9,700.6 239.0,702.4 239.1,704.3 239.3,706.3 239.4,708.3 239.5,710.4 239.7,712.5 239.8,714.6 239.9,716.7 240.1,718.9 240.2,721.1 240.4,723.3 240.5,725.5 240.7,727.8 240.8,730.0 240.9,731.9 241.0,733.8 241.2,735.8 241.3,737.7 241.4,739.7 241.6,741.8 241.7,743.8 241.8,745.8 241.9,747.9 242.1,749.9 242.2,752.0 242.3,754.1 242.5,756.2 242.6,758.2 242.7,760.3 242.9,762.4 243.0,764.4 243.2,766.5 243.3,768.5 243.4,770.5 243.6,772.6 243.7,774.7 243.9,776.7 244.0,778.8 244.2,780.9 244.3,783.0 244.5,785.1 244.6,787.2 244.8,789.3 244.9,791.4 245.1,793.4 245.2,795.4 245.4,797.5 245.5,799.4 245.7,801.4 245.8,803.3 246.0,805.2 246.1,807.0 246.3,809.3 246.5,811.5 246.6,813.7 246.8,815.9 247.0,818.0 247.1,820.1 247.3,822.2 247.5,824.2 247.7,826.2 247.8,828.1 248.0,830.0 248.2,831.9 248.4,833.7 248.6,835.5 248.8,837.3 249.1,839.6 249.4,841.9 249.7,844.2 250.0,846.3 250.3,848.4 250.7,850.4 251.0,852.4 251.4,854.2 251.7,856.0 252.1,857.7 252.4,859.3 253.1,862.0 253.7,864.4 254.4,866.6 255.1,868.5 255.8,870.1 256.5,871.6 258.5,874.3 260.5,875.6 262.7,876.5 265.0,877.0 267.8,877.4 270.0,877.4" fill="none" stroke="#0cc6fb" stroke-width="1.4" stroke-linejoin="round" shape-rendering="crispEdges"/>
<polyline points="270.0,877.4 388.0,877.4" fill="none" stroke="#0cc6fb" stroke-width="1.4" stroke-linejoin="round" shape-rendering="crispEdges"/>
<rect x="132.00" y="623.00" width="2.00" height="257.00" fill="#000"/>
<rect x="388.00" y="623.00" width="2.00" height="257.00" fill="#000"/>
<rect x="132.00" y="622.95" width="258.00" height="1.20" fill="#000"/>
<rect x="132.00" y="878.00" width="258.00" height="2.00" fill="#000"/>
<rect x="126.00" y="624.00" width="6.50" height="1.00" fill="#000"/>
<rect x="130.00" y="637.00" width="2.50" height="1.00" fill="#000"/>
<rect x="130.00" y="650.00" width="2.50" height="1.00" fill="#000"/>
<rect x="130.00" y="663.00" width="2.50" height="1.00" fill="#000"/>
<rect x="130.00" y="675.00" width="2.50" height="1.00" fill="#000"/>
<rect x="126.00" y="688.00" width="6.50" height="1.00" fill="#000"/>
<rect x="130.00" y="701.00" width="2.50" height="1.00" fill="#000"/>
<rect x="130.00" y="714.00" width="2.50" height="1.00" fill="#000"/>
<rect x="130.00" y="726.00" width="2.50" height="1.00" fill="#000"/>
<rect x="130.00" y="739.00" width="2.50" height="1.00" fill="#000"/>
<rect x="126.00" y="752.00" width="6.50" height="1.00" fill="#000"/>
<rect x="130.00" y="765.00" width="2.50" height="1.00" fill="#000"/>
<rect x="130.00" y="777.00" width="2.50" height="1.00" fill="#000"/>
<rect x="130.00" y="790.00" width="2.50" height="1.00" fill="#000"/>
<rect x="130.00" y="803.00" width="2.50" height="1.00" fill="#000"/>
<rect x="126.00" y="816.00" width="6.50" height="1.00" fill="#000"/>
<rect x="130.00" y="828.00" width="2.50" height="1.00" fill="#000"/>
<rect x="130.00" y="841.00" width="2.50" height="1.00" fill="#000"/>
<rect x="130.00" y="854.00" width="2.50" height="1.00" fill="#000"/>
<rect x="130.00" y="867.00" width="2.50" height="1.00" fill="#000"/>
<rect x="126.00" y="879.00" width="6.50" height="1.00" fill="#000"/>
<text x="120.30" y="637.70" font-size="12" text-anchor="end" textLength="19.2" lengthAdjust="spacingAndGlyphs">200</text>
<text x="121.30" y="694.00" font-size="12" text-anchor="end" textLength="19.2" lengthAdjust="spacingAndGlyphs">150</text>
<text x="121.30" y="758.00" font-size="12" text-anchor="end" textLength="19.2" lengthAdjust="spacingAndGlyphs">100</text>
<text x="121.30" y="822.00" font-size="12" text-anchor="end" textLength="12.8" lengthAdjust="spacingAndGlyphs">50</text>
<text x="121.60" y="880.00" font-size="12" text-anchor="end">0</text>
<rect x="133.00" y="879.50" width="1.00" height="7.50" fill="#000"/>
<rect x="176.00" y="879.50" width="1.00" height="7.50" fill="#000"/>
<rect x="218.00" y="879.50" width="1.00" height="7.50" fill="#000"/>
<rect x="260.00" y="879.50" width="1.00" height="7.50" fill="#000"/>
<rect x="303.00" y="879.50" width="1.00" height="7.50" fill="#000"/>
<rect x="346.00" y="879.50" width="1.00" height="7.50" fill="#000"/>
<rect x="388.00" y="879.50" width="1.00" height="7.50" fill="#000"/>
<rect x="146.00" y="879.50" width="1.00" height="3.50" fill="#000"/>
<rect x="153.00" y="879.50" width="1.00" height="3.50" fill="#000"/>
<rect x="159.00" y="879.50" width="1.00" height="3.50" fill="#000"/>
<rect x="163.00" y="879.50" width="1.00" height="3.50" fill="#000"/>
<rect x="166.00" y="879.50" width="1.00" height="3.50" fill="#000"/>
<rect x="169.00" y="879.50" width="1.00" height="3.50" fill="#000"/>
<rect x="171.00" y="879.50" width="1.00" height="3.50" fill="#000"/>
<rect x="174.00" y="879.50" width="1.00" height="3.50" fill="#000"/>
<rect x="188.00" y="879.50" width="1.00" height="3.50" fill="#000"/>
<rect x="196.00" y="879.50" width="1.00" height="3.50" fill="#000"/>
<rect x="201.00" y="879.50" width="1.00" height="3.50" fill="#000"/>
<rect x="205.00" y="879.50" width="1.00" height="3.50" fill="#000"/>
<rect x="209.00" y="879.50" width="1.00" height="3.50" fill="#000"/>
<rect x="211.00" y="879.50" width="1.00" height="3.50" fill="#000"/>
<rect x="214.00" y="879.50" width="1.00" height="3.50" fill="#000"/>
<rect x="216.00" y="879.50" width="1.00" height="3.50" fill="#000"/>
<rect x="231.00" y="879.50" width="1.00" height="3.50" fill="#000"/>
<rect x="238.00" y="879.50" width="1.00" height="3.50" fill="#000"/>
<rect x="244.00" y="879.50" width="1.00" height="3.50" fill="#000"/>
<rect x="248.00" y="879.50" width="1.00" height="3.50" fill="#000"/>
<rect x="251.00" y="879.50" width="1.00" height="3.50" fill="#000"/>
<rect x="254.00" y="879.50" width="1.00" height="3.50" fill="#000"/>
<rect x="256.00" y="879.50" width="1.00" height="3.50" fill="#000"/>
<rect x="259.00" y="879.50" width="1.00" height="3.50" fill="#000"/>
<rect x="273.00" y="879.50" width="1.00" height="3.50" fill="#000"/>
<rect x="281.00" y="879.50" width="1.00" height="3.50" fill="#000"/>
<rect x="286.00" y="879.50" width="1.00" height="3.50" fill="#000"/>
<rect x="290.00" y="879.50" width="1.00" height="3.50" fill="#000"/>
<rect x="294.00" y="879.50" width="1.00" height="3.50" fill="#000"/>
<rect x="296.00" y="879.50" width="1.00" height="3.50" fill="#000"/>
<rect x="299.00" y="879.50" width="1.00" height="3.50" fill="#000"/>
<rect x="301.00" y="879.50" width="1.00" height="3.50" fill="#000"/>
<rect x="316.00" y="879.50" width="1.00" height="3.50" fill="#000"/>
<rect x="323.00" y="879.50" width="1.00" height="3.50" fill="#000"/>
<rect x="329.00" y="879.50" width="1.00" height="3.50" fill="#000"/>
<rect x="333.00" y="879.50" width="1.00" height="3.50" fill="#000"/>
<rect x="336.00" y="879.50" width="1.00" height="3.50" fill="#000"/>
<rect x="339.00" y="879.50" width="1.00" height="3.50" fill="#000"/>
<rect x="341.00" y="879.50" width="1.00" height="3.50" fill="#000"/>
<rect x="344.00" y="879.50" width="1.00" height="3.50" fill="#000"/>
<rect x="358.00" y="879.50" width="1.00" height="3.50" fill="#000"/>
<rect x="366.00" y="879.50" width="1.00" height="3.50" fill="#000"/>
<rect x="371.00" y="879.50" width="1.00" height="3.50" fill="#000"/>
<rect x="375.00" y="879.50" width="1.00" height="3.50" fill="#000"/>
<rect x="379.00" y="879.50" width="1.00" height="3.50" fill="#000"/>
<rect x="381.00" y="879.50" width="1.00" height="3.50" fill="#000"/>
<rect x="384.00" y="879.50" width="1.00" height="3.50" fill="#000"/>
<rect x="386.00" y="879.50" width="1.00" height="3.50" fill="#000"/>
<text x="137.10" y="906.10" font-size="12" text-anchor="start">10</text>
<text x="150.10" y="896.80" font-size="12" text-anchor="start">1</text>
<text x="167.40" y="906.10" font-size="12" text-anchor="start">10</text>
<text x="181.30" y="896.80" font-size="12" text-anchor="start">2</text>
<text x="205.40" y="906.10" font-size="12" text-anchor="start">10</text>
<text x="219.30" y="896.80" font-size="12" text-anchor="start">3</text>
<text x="245.10" y="906.10" font-size="12" text-anchor="start">10</text>
<text x="259.00" y="896.80" font-size="12" text-anchor="start">4</text>
<text x="283.10" y="906.10" font-size="12" text-anchor="start">10</text>
<text x="297.00" y="896.80" font-size="12" text-anchor="start">5</text>
<text x="323.10" y="906.10" font-size="12" text-anchor="start">10</text>
<text x="337.00" y="896.80" font-size="12" text-anchor="start">6</text>
<text x="361.20" y="906.10" font-size="12" text-anchor="start">10</text>
<text x="375.10" y="896.80" font-size="12" text-anchor="start">7</text>
<text x="263.00" y="940.90" font-size="12" text-anchor="middle" textLength="80.3" lengthAdjust="spacingAndGlyphs">FL4-A:: APC-A</text>
<text transform="translate(83.20,752.10) rotate(-90)" font-size="12" text-anchor="middle" textLength="31.8" lengthAdjust="spacingAndGlyphs">Count</text>
<polyline points="815.6,876.4 817.0,876.4 819.0,876.4 821.4,876.4 823.9,876.3 826.5,876.2 828.9,876.1 830.9,875.9 833.3,875.6 835.4,875.2 837.4,874.8 839.2,874.4 841.0,874.0 843.8,873.4 846.3,872.9 848.6,872.1 851.3,870.8 853.7,868.6 855.0,866.8 856.3,864.5 857.6,862.0 858.8,859.5 859.7,857.5 860.4,855.4 861.2,853.3 861.9,851.0 862.6,848.5 863.1,846.6 863.6,844.6 864.1,842.5 864.6,840.3 865.0,838.1 865.5,835.7 865.9,833.2 866.2,831.4 866.5,829.5 866.7,827.6 867.0,825.7 867.3,823.7 867.5,821.6 867.8,819.5 868.0,817.4 868.3,815.2 868.5,812.9 868.7,810.9 868.9,808.9 869.1,806.8 869.3,804.6 869.5,802.4 869.7,800.2 869.9,798.0 870.1,795.8 870.3,793.6 870.4,791.5 870.6,789.5 870.8,787.5 871.0,785.2 871.2,783.0 871.4,780.8 871.6,778.6 871.8,776.5 872.0,774.5 872.2,772.5 872.4,770.6 872.6,768.8 872.8,767.1 873.1,764.5 873.4,762.1 873.7,760.0 874.0,758.0 874.3,756.1 874.6,754.4 875.3,751.9 876.0,749.9 876.6,746.8 876.8,745.1 877.0,743.2 877.1,741.2 877.3,739.0 877.4,736.7 877.6,734.2 877.7,731.7 877.9,729.0 878.0,727.1 878.2,725.2 878.3,723.1 878.5,721.0 878.6,718.8 878.8,716.6 878.9,714.4 879.1,712.2 879.3,710.0 879.4,707.8 879.6,705.7 879.7,703.6 879.8,701.4 880.0,699.0 880.1,696.7 880.3,694.3 880.4,691.9 880.5,689.7 880.7,687.5 880.8,685.5 880.9,683.7 881.1,682.1 881.2,680.7 882.5,676.9 883.7,680.7 883.9,682.2 884.2,683.9 884.4,685.9 884.6,688.1 884.9,690.5 885.2,693.1 885.5,695.9 885.7,697.6 885.9,699.5 886.1,701.4 886.3,703.5 886.5,705.5 886.7,707.7 886.9,709.9 887.1,712.1 887.4,714.4 887.6,716.7 887.8,719.1 888.0,721.4 888.2,723.3 888.3,725.2 888.5,727.2 888.7,729.2 888.9,731.2 889.0,733.2 889.2,735.3 889.4,737.4 889.6,739.5 889.7,741.5 889.9,743.6 890.1,745.7 890.3,747.8 890.4,749.9 890.6,751.9 890.8,753.9 890.9,756.0 891.1,758.1 891.3,760.2 891.4,762.3 891.6,764.5 891.8,766.6 891.9,768.7 892.1,770.7 892.3,772.8 892.4,774.8 892.6,776.8 892.8,778.7 892.9,780.6 893.1,782.4 893.3,784.8 893.6,787.0 893.8,789.2 894.0,791.3 894.2,793.3 894.5,795.3 894.7,797.3 894.9,799.3 895.2,801.2 895.4,803.2 895.7,805.3 896.0,807.4 896.3,809.5 896.5,811.7 896.8,813.8 897.1,816.0 897.4,818.1 897.7,820.2 898.1,822.3 898.4,824.3 898.7,826.3 899.0,828.2 899.4,830.7 899.9,833.1 900.3,835.4 900.8,837.7 901.2,839.8 901.7,841.9 902.1,844.0 902.6,846.0 903.1,848.2 903.7,850.4 904.3,852.5 904.8,854.5 905.4,856.4 906.0,858.2 906.6,860.0 907.4,862.3 908.3,864.6 909.2,866.6 910.1,868.5 910.9,870.1 912.9,873.2 914.8,875.2 918.6,876.2" fill="none" stroke="#ff2a2a" stroke-width="1.4" stroke-linejoin="round" shape-rendering="crispEdges"/>
<polyline points="918.6,876.4 1038.0,876.4" fill="none" stroke="#ff2a2a" stroke-width="1.4" stroke-linejoin="round" shape-rendering="crispEdges"/>
<polyline points="784.5,745.0 784.5,810.0 785.4,811.0 785.5,856.0 786.6,857.0 786.9,872.0 788.5,876.4 790.2,876.4" fill="none" stroke="#0cc6fb" stroke-width="1.4" stroke-linejoin="round" shape-rendering="crispEdges"/>
<polyline points="790.2,876.4 791.7,876.4 793.9,876.4 796.4,876.4 799.1,876.4 801.7,876.4 804.0,876.3 806.5,876.2 808.9,876.1 811.3,875.9 813.5,875.7 815.6,875.4 818.1,874.9 820.5,874.3 822.7,873.7 824.6,873.0 827.4,871.5 829.8,869.8 832.5,867.6 835.0,865.5 838.8,863.7 841.4,860.6 842.4,859.0 843.6,856.1 844.1,854.5 844.7,852.7 845.4,850.6 846.1,848.3 846.7,845.9 847.4,843.4 847.9,841.5 848.4,839.4 848.8,837.3 849.3,835.1 849.8,832.9 850.2,830.5 850.7,828.1 851.2,825.6 851.5,823.7 851.9,821.7 852.2,819.7 852.6,817.6 853.0,815.5 853.3,813.4 853.7,811.2 854.0,809.1 854.3,806.9 854.7,804.8 855.0,802.7 855.3,800.6 855.6,798.6 855.9,796.5 856.2,794.5 856.5,792.4 856.8,790.4 857.1,788.3 857.4,786.2 857.7,784.1 858.0,782.0 858.3,779.8 858.6,777.8 858.8,775.7 859.1,773.7 859.4,771.6 859.6,769.5 859.9,767.4 860.2,765.3 860.4,763.2 860.7,761.0 860.9,758.8 861.2,756.6 861.4,754.4 861.6,752.5 861.8,750.5 862.0,748.5 862.2,746.5 862.4,744.5 862.5,742.4 862.7,740.4 862.9,738.4 863.1,736.3 863.2,734.3 863.4,732.3 863.6,730.3 863.7,728.3 863.9,726.4 864.1,724.2 864.3,722.0 864.4,719.8 864.6,717.6 864.8,715.5 864.9,713.4 865.1,711.3 865.3,709.2 865.4,707.1 865.6,705.1 865.7,703.0 865.9,701.0 866.1,698.8 866.2,696.6 866.4,694.4 866.6,692.3 866.7,690.1 866.9,688.0 867.1,685.9 867.2,683.9 867.4,681.9 867.5,680.0 867.7,678.1 867.9,675.5 868.2,673.0 868.4,670.4 868.6,668.0 868.8,665.7 869.1,663.6 869.3,661.8 869.5,660.3 871.0,656.5 871.6,658.0 872.1,660.7 872.8,662.9 875.3,665.4 875.5,666.7 875.7,668.2 875.9,669.9 876.1,671.8 876.2,673.9 876.4,676.1 876.6,678.4 876.7,680.8 876.9,683.3 877.1,685.8 877.2,687.5 877.4,689.4 877.5,691.3 877.6,693.2 877.8,695.2 877.9,697.3 878.1,699.4 878.2,701.5 878.4,703.6 878.5,705.8 878.7,707.9 878.8,710.0 878.9,712.2 879.1,714.2 879.2,716.3 879.3,718.3 879.4,720.3 879.6,722.4 879.7,724.4 879.8,726.4 879.9,728.4 880.0,730.4 880.1,732.4 880.2,734.4 880.3,736.4 880.4,738.5 880.5,740.5 880.7,742.6 880.8,744.7 880.9,746.8 881.0,748.8 881.1,750.8 881.3,752.8 881.4,754.9 881.5,756.9 881.7,759.0 881.8,761.1 881.9,763.1 882.1,765.2 882.2,767.3 882.4,769.4 882.5,771.5 882.6,773.6 882.7,775.7 882.9,777.7 883.0,779.8 883.1,781.9 883.2,784.0 883.4,786.1 883.5,788.2 883.6,790.4 883.7,792.5 883.8,794.7 883.9,796.8 884.0,798.9 884.1,801.0 884.2,803.1 884.3,805.2 884.5,807.2 884.6,809.1 884.7,811.0 884.8,812.9 885.0,815.3 885.1,817.7 885.3,820.0 885.4,822.2 885.6,824.4 885.8,826.6 885.9,828.6 886.1,830.7 886.3,832.7 886.4,834.6 886.6,836.5 886.8,838.3 887.1,840.9 887.4,843.4 887.7,845.8 888.0,848.0 888.3,850.1 888.6,852.2 889.0,854.2 889.3,856.1 889.8,858.6 890.3,860.9 890.7,863.2 891.3,865.2 891.8,867.1 892.4,868.8 893.6,871.6 895.0,873.7 896.5,875.2 899.5,876.3 902.0,876.4" fill="none" stroke="#0cc6fb" stroke-width="1.4" stroke-linejoin="round" shape-rendering="crispEdges"/>
<polyline points="902.0,876.4 1038.0,876.4" fill="none" stroke="#0cc6fb" stroke-width="1.4" stroke-linejoin="round" shape-rendering="crispEdges"/>
<polyline points="784.5,848.0 784.5,863.0" fill="none" stroke="#ff2a2a" stroke-width="1.0" stroke-linejoin="round" shape-rendering="crispEdges"/>
<rect x="782.00" y="622.00" width="2.00" height="257.00" fill="#000"/>
<rect x="1038.00" y="622.00" width="2.00" height="257.00" fill="#000"/>
<rect x="782.00" y="621.95" width="258.00" height="1.20" fill="#000"/>
<rect x="782.00" y="877.00" width="258.00" height="2.00" fill="#000"/>
<rect x="776.00" y="623.00" width="6.50" height="1.00" fill="#000"/>
<rect x="780.00" y="634.00" width="2.50" height="1.00" fill="#000"/>
<rect x="780.00" y="644.00" width="2.50" height="1.00" fill="#000"/>
<rect x="780.00" y="654.00" width="2.50" height="1.00" fill="#000"/>
<rect x="780.00" y="664.00" width="2.50" height="1.00" fill="#000"/>
<rect x="776.00" y="674.00" width="6.50" height="1.00" fill="#000"/>
<rect x="780.00" y="685.00" width="2.50" height="1.00" fill="#000"/>
<rect x="780.00" y="695.00" width="2.50" height="1.00" fill="#000"/>
<rect x="780.00" y="705.00" width="2.50" height="1.00" fill="#000"/>
<rect x="780.00" y="715.00" width="2.50" height="1.00" fill="#000"/>
<rect x="776.00" y="725.00" width="6.50" height="1.00" fill="#000"/>
<rect x="780.00" y="736.00" width="2.50" height="1.00" fill="#000"/>
<rect x="780.00" y="746.00" width="2.50" height="1.00" fill="#000"/>
<rect x="780.00" y="756.00" width="2.50" height="1.00" fill="#000"/>
<rect x="780.00" y="766.00" width="2.50" height="1.00" fill="#000"/>
<rect x="776.00" y="776.00" width="6.50" height="1.00" fill="#000"/>
<rect x="780.00" y="787.00" width="2.50" height="1.00" fill="#000"/>
<rect x="780.00" y="797.00" width="2.50" height="1.00" fill="#000"/>
<rect x="780.00" y="807.00" width="2.50" height="1.00" fill="#000"/>
<rect x="780.00" y="817.00" width="2.50" height="1.00" fill="#000"/>
<rect x="776.00" y="827.00" width="6.50" height="1.00" fill="#000"/>
<rect x="780.00" y="838.00" width="2.50" height="1.00" fill="#000"/>
<rect x="780.00" y="848.00" width="2.50" height="1.00" fill="#000"/>
<rect x="780.00" y="858.00" width="2.50" height="1.00" fill="#000"/>
<rect x="780.00" y="868.00" width="2.50" height="1.00" fill="#000"/>
<rect x="776.00" y="878.00" width="6.50" height="1.00" fill="#000"/>
<text x="770.30" y="636.70" font-size="12" text-anchor="end" textLength="19.2" lengthAdjust="spacingAndGlyphs">250</text>
<text x="770.30" y="680.00" font-size="12" text-anchor="end" textLength="19.2" lengthAdjust="spacingAndGlyphs">200</text>
<text x="771.30" y="731.00" font-size="12" text-anchor="end" textLength="19.2" lengthAdjust="spacingAndGlyphs">150</text>
<text x="771.30" y="782.00" font-size="12" text-anchor="end" textLength="19.2" lengthAdjust="spacingAndGlyphs">100</text>
<text x="771.30" y="833.00" font-size="12" text-anchor="end" textLength="12.8" lengthAdjust="spacingAndGlyphs">50</text>
<text x="771.60" y="879.00" font-size="12" text-anchor="end">0</text>
<rect x="802.00" y="878.50" width="1.00" height="7.50" fill="#000"/>
<rect x="838.00" y="878.50" width="1.00" height="7.50" fill="#000"/>
<rect x="875.00" y="878.50" width="1.00" height="7.50" fill="#000"/>
<rect x="911.00" y="878.50" width="1.00" height="7.50" fill="#000"/>
<rect x="948.00" y="878.50" width="1.00" height="7.50" fill="#000"/>
<rect x="984.00" y="878.50" width="1.00" height="7.50" fill="#000"/>
<rect x="1021.00" y="878.50" width="1.00" height="7.50" fill="#000"/>
<rect x="783.00" y="878.50" width="1.00" height="3.50" fill="#000"/>
<rect x="788.00" y="878.50" width="1.00" height="3.50" fill="#000"/>
<rect x="791.00" y="878.50" width="1.00" height="3.50" fill="#000"/>
<rect x="794.00" y="878.50" width="1.00" height="3.50" fill="#000"/>
<rect x="796.00" y="878.50" width="1.00" height="3.50" fill="#000"/>
<rect x="799.00" y="878.50" width="1.00" height="3.50" fill="#000"/>
<rect x="800.00" y="878.50" width="1.00" height="3.50" fill="#000"/>
<rect x="813.00" y="878.50" width="1.00" height="3.50" fill="#000"/>
<rect x="819.00" y="878.50" width="1.00" height="3.50" fill="#000"/>
<rect x="824.00" y="878.50" width="1.00" height="3.50" fill="#000"/>
<rect x="828.00" y="878.50" width="1.00" height="3.50" fill="#000"/>
<rect x="830.00" y="878.50" width="1.00" height="3.50" fill="#000"/>
<rect x="833.00" y="878.50" width="1.00" height="3.50" fill="#000"/>
<rect x="835.00" y="878.50" width="1.00" height="3.50" fill="#000"/>
<rect x="837.00" y="878.50" width="1.00" height="3.50" fill="#000"/>
<rect x="849.00" y="878.50" width="1.00" height="3.50" fill="#000"/>
<rect x="856.00" y="878.50" width="1.00" height="3.50" fill="#000"/>
<rect x="860.00" y="878.50" width="1.00" height="3.50" fill="#000"/>
<rect x="864.00" y="878.50" width="1.00" height="3.50" fill="#000"/>
<rect x="867.00" y="878.50" width="1.00" height="3.50" fill="#000"/>
<rect x="869.00" y="878.50" width="1.00" height="3.50" fill="#000"/>
<rect x="871.00" y="878.50" width="1.00" height="3.50" fill="#000"/>
<rect x="873.00" y="878.50" width="1.00" height="3.50" fill="#000"/>
<rect x="886.00" y="878.50" width="1.00" height="3.50" fill="#000"/>
<rect x="892.00" y="878.50" width="1.00" height="3.50" fill="#000"/>
<rect x="897.00" y="878.50" width="1.00" height="3.50" fill="#000"/>
<rect x="900.00" y="878.50" width="1.00" height="3.50" fill="#000"/>
<rect x="903.00" y="878.50" width="1.00" height="3.50" fill="#000"/>
<rect x="906.00" y="878.50" width="1.00" height="3.50" fill="#000"/>
<rect x="908.00" y="878.50" width="1.00" height="3.50" fill="#000"/>
<rect x="910.00" y="878.50" width="1.00" height="3.50" fill="#000"/>
<rect x="922.00" y="878.50" width="1.00" height="3.50" fill="#000"/>
<rect x="929.00" y="878.50" width="1.00" height="3.50" fill="#000"/>
<rect x="933.00" y="878.50" width="1.00" height="3.50" fill="#000"/>
<rect x="937.00" y="878.50" width="1.00" height="3.50" fill="#000"/>
<rect x="940.00" y="878.50" width="1.00" height="3.50" fill="#000"/>
<rect x="942.00" y="878.50" width="1.00" height="3.50" fill="#000"/>
<rect x="944.00" y="878.50" width="1.00" height="3.50" fill="#000"/>
<rect x="946.00" y="878.50" width="1.00" height="3.50" fill="#000"/>
<rect x="959.00" y="878.50" width="1.00" height="3.50" fill="#000"/>
<rect x="965.00" y="878.50" width="1.00" height="3.50" fill="#000"/>
<rect x="970.00" y="878.50" width="1.00" height="3.50" fill="#000"/>
<rect x="973.00" y="878.50" width="1.00" height="3.50" fill="#000"/>
<rect x="976.00" y="878.50" width="1.00" height="3.50" fill="#000"/>
<rect x="979.00" y="878.50" width="1.00" height="3.50" fill="#000"/>
<rect x="981.00" y="878.50" width="1.00" height="3.50" fill="#000"/>
<rect x="983.00" y="878.50" width="1.00" height="3.50" fill="#000"/>
<rect x="995.00" y="878.50" width="1.00" height="3.50" fill="#000"/>
<rect x="1002.00" y="878.50" width="1.00" height="3.50" fill="#000"/>
<rect x="1006.00" y="878.50" width="1.00" height="3.50" fill="#000"/>
<rect x="1010.00" y="878.50" width="1.00" height="3.50" fill="#000"/>
<rect x="1013.00" y="878.50" width="1.00" height="3.50" fill="#000"/>
<rect x="1015.00" y="878.50" width="1.00" height="3.50" fill="#000"/>
<rect x="1017.00" y="878.50" width="1.00" height="3.50" fill="#000"/>
<rect x="1019.00" y="878.50" width="1.00" height="3.50" fill="#000"/>
<rect x="1032.00" y="878.50" width="1.00" height="3.50" fill="#000"/>
<rect x="1038.00" y="878.50" width="1.00" height="3.50" fill="#000"/>
<text x="795.90" y="905.10" font-size="12" text-anchor="start">10</text>
<text x="808.90" y="895.80" font-size="12" text-anchor="start">1</text>
<text x="828.90" y="905.10" font-size="12" text-anchor="start">10</text>
<text x="842.80" y="895.80" font-size="12" text-anchor="start">2</text>
<text x="862.10" y="905.10" font-size="12" text-anchor="start">10</text>
<text x="876.00" y="895.80" font-size="12" text-anchor="start">3</text>
<text x="894.80" y="905.10" font-size="12" text-anchor="start">10</text>
<text x="908.70" y="895.80" font-size="12" text-anchor="start">4</text>
<text x="928.20" y="905.10" font-size="12" text-anchor="start">10</text>
<text x="942.10" y="895.80" font-size="12" text-anchor="start">5</text>
<text x="961.10" y="905.10" font-size="12" text-anchor="start">10</text>
<text x="975.00" y="895.80" font-size="12" text-anchor="start">6</text>
<text x="994.10" y="905.10" font-size="12" text-anchor="start">10</text>
<text x="1008.00" y="895.80" font-size="12" text-anchor="start">7</text>
<text x="913.00" y="939.90" font-size="12" text-anchor="middle" textLength="70.6" lengthAdjust="spacingAndGlyphs">FL2-A:: PE-A</text>
<text transform="translate(733.20,751.10) rotate(-90)" font-size="12" text-anchor="middle" textLength="31.8" lengthAdjust="spacingAndGlyphs">Count</text>
</svg></body></html>
